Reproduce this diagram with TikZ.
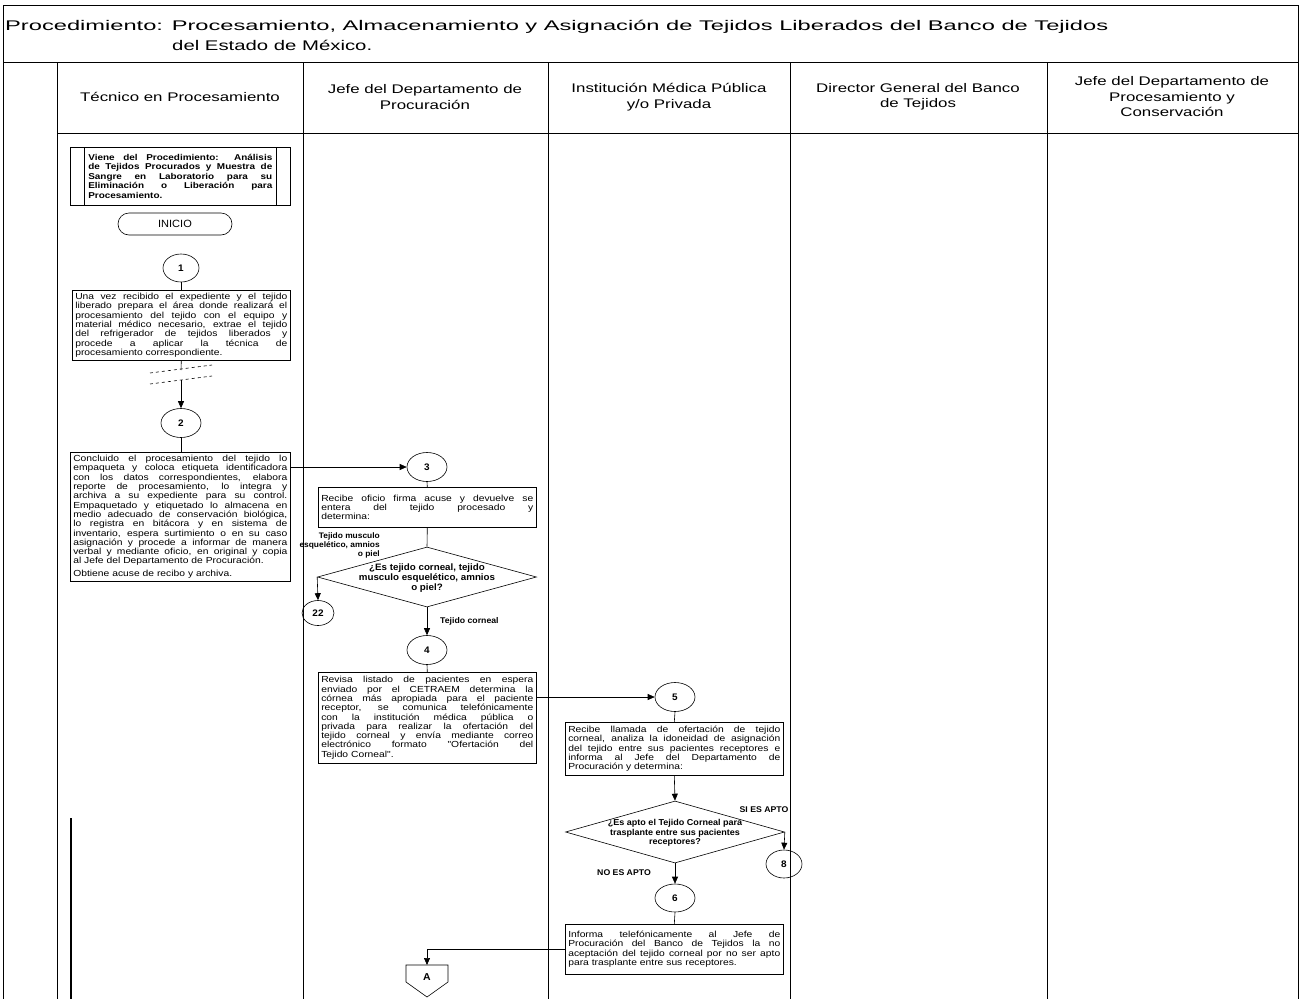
\documentclass[tikz,border=0pt]{standalone}
\usepackage{fontspec}
\setmainfont{Liberation Sans}[FakeStretch=1.05]
\newfontfamily\hdfont{Liberation Sans}[FakeStretch=1.35]
\newfontfamily\boxfont{Liberation Sans}[FakeStretch=1.17]
\usepackage{graphicx}
\usetikzlibrary{shapes.geometric,arrows.meta}
\newlength\bw
\setlength\bw{212pt}
\newcommand\jl[1]{\makebox[\bw][s]{\spaceskip=0pt\xspaceskip=0pt #1}}
\begin{document}
\begin{tikzpicture}[x=1pt,y=-1pt,
  ln/.style={line width=0.6pt},
  lanel/.style={line width=0.6pt},
  box/.style={draw, line width=0.6pt, anchor=north west, inner sep=3pt, align=left, font=\boxfont\fontsize{8.8}{9.3}\selectfont},
  circ/.style={draw, ellipse, line width=0.6pt, inner sep=0pt, minimum width=40pt, minimum height=29pt, font=\fontsize{9.5}{10}\selectfont\bfseries},
  dia/.style={draw, diamond, line width=0.6pt, inner sep=0pt},
  lbl/.style={font=\fontsize{8.3}{9.5}\selectfont\bfseries, inner sep=0pt},
  arr/.style={line width=0.6pt, -{Triangle[length=7pt,width=6pt]}},
  hdr/.style={font=\hdfont\fontsize{12.5}{15.5}\selectfont, align=center, inner sep=0pt}
]
\useasboundingbox (0,0) rectangle (1301,999);

% ---- frame, title and lanes
\draw[ln] (3,5) rectangle (1298,62);
\node[anchor=west, inner sep=0pt] (t1) at (5,27) {\resizebox{1103pt}{\height}{\fontsize{14}{16}\selectfont Procedimiento: Procesamiento, Almacenamiento y Asignación de Tejidos Liberados del Banco de Tejidos}};
\node[anchor=west, inner sep=0pt] (t2) at (172,45) {\resizebox{200pt}{\height}{\fontsize{14}{16}\selectfont del Estado de México.}};

\draw[lanel] (3,62) -- (3,999);
\draw[lanel] (1298,62) -- (1298,999);
\draw[lanel] (57,62) -- (57,999);
\draw[lanel] (303,62) -- (303,999);
\draw[lanel] (548,62) -- (548,999);
\draw[lanel] (790,62) -- (790,999);
\draw[lanel] (1047,133) -- (1047,999);
\draw[lanel] (57,133) -- (1047,133);
\draw[line width=1pt] (1047,62) rectangle (1298,133);
\draw[line width=1.6pt] (71,818) -- (71,999);

\node[hdr] (h1) at (180,97) {Técnico en Procesamiento};
\node[hdr] (h2) at (425,97) {Jefe del Departamento de\\Procuración};
\node[hdr] (h3) at (669,97) {Institución Médica Pública\\y/o Privada};
\node[hdr] (h4) at (918,97) {Director General del Banco\\de Tejidos};
\node[hdr] (h5) at (1172,97) {Jefe del Departamento de\\Procesamiento y\\Conservación};

% ---- lane 1
\node[draw, line width=0.6pt, anchor=north west, minimum width=220pt, minimum height=58pt] (vb) at (70,147) {};
\draw[ln] (84,147) -- (84,205);
\draw[ln] (276,147) -- (276,205);
\node[text width=184pt, align=left, inner sep=0pt, font=\boxfont\fontsize{8.5}{9.6}\selectfont\bfseries] (vt) at (vb.center) {\setlength\bw{184pt}%
\jl{Viene del Procedimiento: Análisis}\\
\jl{de Tejidos Procurados y Muestra de}\\
\jl{Sangre en Laboratorio para su}\\
\jl{Eliminación o Liberación para}\\
Procesamiento.};

\node[draw, line width=0.6pt, rounded corners=11pt, minimum width=114pt, minimum height=22pt, font=\fontsize{10.5}{11}\selectfont] (ini) at (175,224) {INICIO};

\node[circ, minimum width=36pt, minimum height=28pt] (c1) at (181,268) {1};

\node[box, text width=212pt, minimum height=67pt] (b1) at (72,290) {\setlength\bw{212pt}%
\jl{Una vez recibido el expediente y el tejido}\\
\jl{liberado prepara el área donde realizará el}\\
\jl{procesamiento del tejido con el equipo y}\\
\jl{material médico necesario, extrae el tejido}\\
\jl{del refrigerador de tejidos liberados y}\\
\jl{procede a aplicar la técnica de}\\
procesamiento correspondiente.};

\coordinate (brk1) at (181,370);
\coordinate (brk2) at (181,380);
\node[circ] (c2) at (181,423) {2};

\node[box, text width=214pt, minimum height=128pt] (b2) at (70,452) {\setlength\bw{214pt}%
\jl{Concluido el procesamiento del tejido lo}\\
\jl{empaqueta y coloca etiqueta identificadora}\\
\jl{con los datos correspondientes, elabora}\\
\jl{reporte de procesamiento, lo integra y}\\
\jl{archiva a su expediente para su control.}\\
\jl{Empaquetado y etiquetado lo almacena en}\\
\jl{medio adecuado de conservación biológica,}\\
\jl{lo registra en bitácora y en sistema de}\\
\jl{inventario, espera surtimiento o en su caso}\\
\jl{asignación y procede a informar de manera}\\
\jl{verbal y mediante oficio, en original y copia}\\
al Jefe del Departamento de Procuración.\\[3pt]
Obtiene acuse de recibo y archiva.};

% ---- lane 2
\node[circ] (c3) at (427,467) {3};
\node[box, text width=212pt, minimum height=40pt] (b3) at (318,487) {\setlength\bw{212pt}%
\jl{Recibe oficio firma acuse y devuelve se}\\
\jl{entera del tejido procesado y}\\
determina:};

\node[dia, minimum width=219pt, minimum height=60pt] (d1) at (427,577) {};
\node[lbl, align=center, font=\fontsize{9.3}{10.3}\selectfont\bfseries] (d1t) at (427,578) {¿Es tejido corneal, tejido\\musculo esquelético, amnios\\o piel?};
\node[lbl, align=right, anchor=east, font=\fontsize{8}{9}\selectfont\bfseries] (l1) at (380,545) {Tejido musculo\\esquelético, amnios\\o piel};
\node[circ, minimum width=32pt, minimum height=25pt] (c22) at (318,613) {22};
\node[lbl, anchor=west] (l2) at (440,621) {Tejido corneal};
\node[circ] (c4) at (427,650) {4};

\node[box, text width=212pt, minimum height=91pt] (b4) at (318,672) {\setlength\bw{212pt}%
\jl{Revisa listado de pacientes en espera}\\
\jl{enviado por el CETRAEM determina la}\\
\jl{córnea más apropiada para el paciente}\\
\jl{receptor, se comunica telefónicamente}\\
\jl{con la institución médica pública o}\\
\jl{privada para realizar la ofertación del}\\
\jl{tejido corneal y envía mediante correo}\\
\jl{electrónico formato "Ofertación del}\\
Tejido Corneal".};

\coordinate (Atop) at (427,965);
\node[inner sep=0pt, font=\fontsize{10}{10}\selectfont\bfseries] (A) at (427,977) {A};
\draw[ln] (406,965) -- (448,965) -- (448,982) -- (427,997) -- (406,982) -- cycle;

% ---- lane 3
\node[circ] (c5) at (675,697) {5};
\node[box, text width=212pt, minimum height=53pt] (b5) at (565,722) {\setlength\bw{212pt}%
\jl{Recibe llamada de ofertación de tejido}\\
\jl{corneal, analiza la idoneidad de asignación}\\
\jl{del tejido entre sus pacientes receptores e}\\
\jl{informa al Jefe del Departamento de}\\
Procuración y determina:};

\node[dia, minimum width=219pt, minimum height=62pt] (d2) at (675,832) {};
\node[lbl, align=center, font=\fontsize{8.6}{9.6}\selectfont\bfseries] (d2t) at (675,833) {¿Es apto el Tejido Corneal para\\trasplante entre sus pacientes\\receptores?};
\node[lbl] (l3) at (764,810) {SI ES APTO};
\node[circ, minimum width=36pt, minimum height=28pt] (c8) at (784,864) {8};
\node[lbl] (l4) at (624,873) {NO ES APTO};
\node[circ, minimum height=28pt] (c6) at (675,898) {6};

\node[box, text width=212pt, minimum height=50pt] (b6) at (565,924) {\setlength\bw{212pt}%
\jl{Informa telefónicamente al Jefe de}\\
\jl{Procuración del Banco de Tejidos la no}\\
\jl{aceptación del tejido corneal por no ser apto}\\
para trasplante entre sus receptores.};

% ---- connectors
\draw[ln] (c1.south) -- (c1.south |- b1.north);
\draw[ln] (b1.south) -- (brk1);
\draw[ln, dashed] (150,373) -- (212,365);
\draw[ln, dashed] (150,384) -- (212,376);
\draw[arr] (brk2) -- (c2.north);
\draw[ln] (c2.south) -- (c2.south |- b2.north);
\draw[arr] (b2.east |- c3.west) -- (c3.west);
\draw[ln] (c3.south) -- (b3.north);
\draw[ln] (b3.south) -- (d1.north);
\draw[arr] (d1.west) -- (c22.north);
\draw[arr] (d1.south) -- (c4.north);
\draw[ln] (c4.south) -- (b4.north);
\draw[arr] (b4.east |- c5.west) -- (c5.west);
\draw[ln] (c5.south) -- (b5.north);
\draw[arr] (b5.south) -- (d2.north);
\draw[arr] (d2.east) -- (c8.north);
\draw[arr] (d2.south) -- (c6.north);
\draw[ln] (c6.south) -- (b6.north);
\draw[arr] (b6.west) -| (Atop);
\end{tikzpicture}
\end{document}
